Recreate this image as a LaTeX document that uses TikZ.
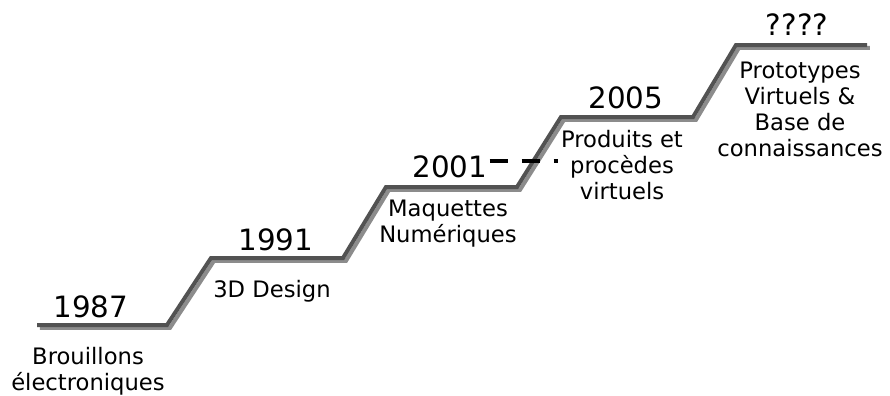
\documentclass[tikz,border=0pt]{standalone}
\usepackage{fontspec}
\setmainfont{DejaVu Sans}
\tikzset{
  stair/.style={line width=3pt, line join=miter},
  year/.style={font=\fontsize{22}{24}\selectfont, inner sep=0pt},
  lbl/.style={font=\fontsize{17}{19.5}\selectfont, align=center, inner sep=0pt},
}
\begin{document}
\begin{tikzpicture}[x=0.75pt,y=-0.75pt]
\useasboundingbox (0,0) rectangle (890,396);

% corners of the stairs
\coordinate (p0) at (37,325);
\coordinate (p1) at (167,325);
\coordinate (p2) at (211,258);
\coordinate (p3) at (343,258);
\coordinate (p4) at (386,187);
\coordinate (p5) at (517,187);
\coordinate (p6) at (561,117);
\coordinate (p7) at (693,117);
\coordinate (p8) at (736,45);
\coordinate (p9) at (867,45);

%\draw [stair, black] (p0) -- (p1) -- (p2) -- (p3) -- (p4) -- (p5) -- (p6) -- (p7) -- (p8) -- (p9);
\draw [stair, black!45, transform canvas={xshift=2.2pt, yshift=-2.2pt}] (p0) -- (p1) -- (p2) -- (p3) -- (p4) -- (p5) -- (p6) -- (p7) -- (p8) -- (p9);
\draw [stair, black!68] (p0) -- (p1) -- (p2) -- (p3) -- (p4) -- (p5) -- (p6) -- (p7) -- (p8) -- (p9);

\node[year] (y1987) at (91,307) {1987};
\node[lbl] (t1987) at (88,371) {Brouillons\\électroniques};

\node[year] (y1991) at (276,240) {1991};
\node[lbl] (t1991) at (272,291) {3D Design};

\node[year] (y2001) at (450,167) {2001};
\node[lbl] (t2001) at (448,224) {Maquettes\\Numériques};

\node[year] (y2005) at (626,98) {2005};
\node[lbl] (t2005) at (622,165) {Produits et\\procèdes\\virtuels};

\node[year] (y????) at (797,25) {????};
\node[lbl] (t????) at (800,109) {Prototypes\\Virtuels \&\\Base de\\connaissances};

\coordinate (dashend) at (558,161);
\draw [line width=3pt, dash pattern=on 13.5pt off 10.5pt] (y2001.east |- dashend) ++(2,0) -- (dashend);
\end{tikzpicture}
\end{document}
